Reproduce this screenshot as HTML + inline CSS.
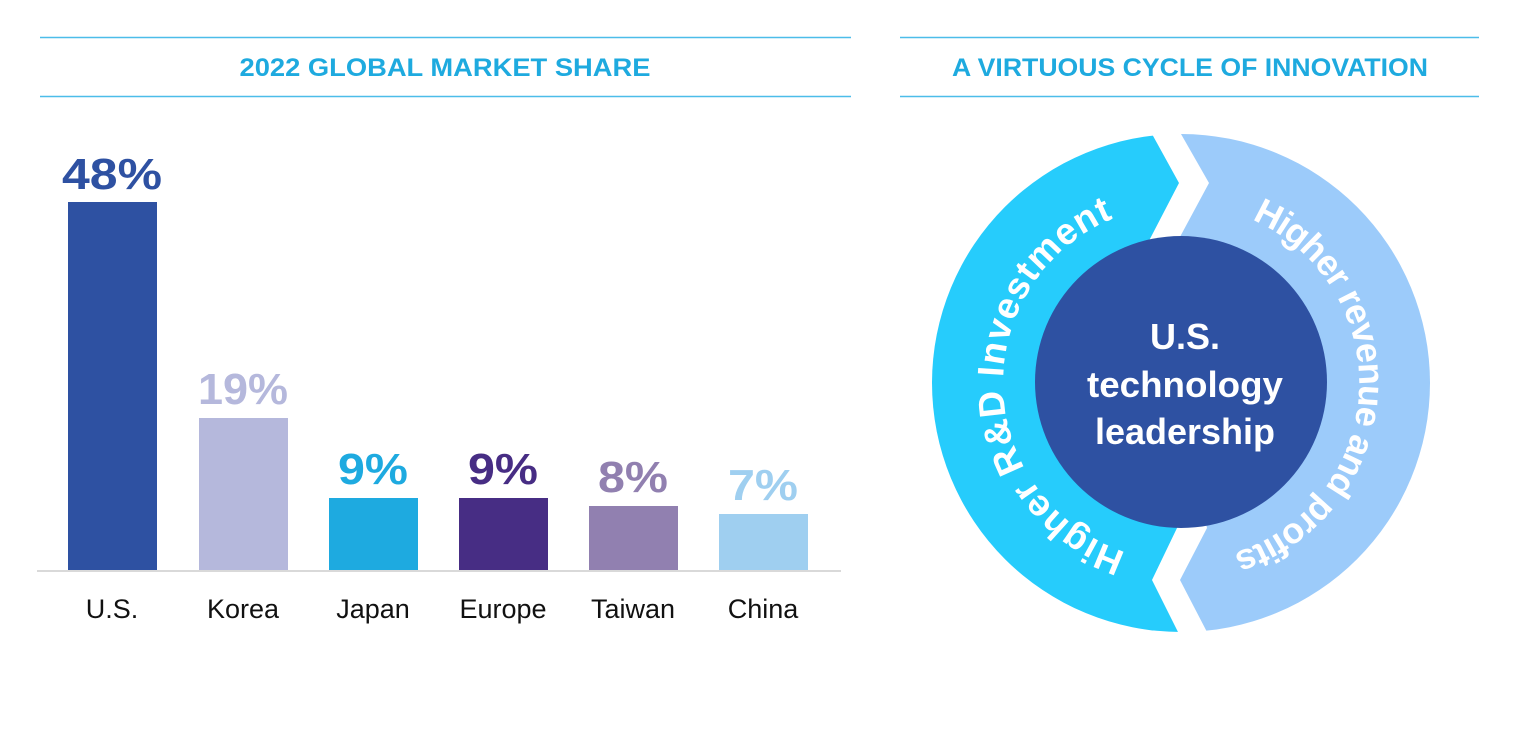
<!DOCTYPE html>
<html><head><meta charset="utf-8"><style>
html,body{margin:0;padding:0;background:#fff;}
svg{display:block;font-family:"Liberation Sans",sans-serif;}
</style></head><body>
<svg width="1536" height="730" viewBox="0 0 1536 730" xmlns="http://www.w3.org/2000/svg">
<defs>
<clipPath id="ring"><circle cx="1181" cy="383" r="249"/></clipPath>
<path id="arcL" d="M 1162.4 560.0 A 178 178 0 0 1 1150.1 207.7" fill="none"/>
<path id="arcR" d="M 1211.9 207.7 A 178 178 0 0 1 1193.4 560.6" fill="none"/>
</defs>
<line x1="40" y1="37.5" x2="851" y2="37.5" stroke="#4dbde9" stroke-width="1.5"/>
<line x1="40" y1="96.5" x2="851" y2="96.5" stroke="#4dbde9" stroke-width="1.5"/>
<text x="445" y="76" text-anchor="middle" font-size="25" font-weight="bold" fill="#1eaadf" textLength="411" lengthAdjust="spacingAndGlyphs">2022 GLOBAL MARKET SHARE</text>
<line x1="900" y1="37.5" x2="1479" y2="37.5" stroke="#4dbde9" stroke-width="1.5"/>
<line x1="900" y1="96.5" x2="1479" y2="96.5" stroke="#4dbde9" stroke-width="1.5"/>
<text x="1190" y="76" text-anchor="middle" font-size="25" font-weight="bold" fill="#1eaadf" textLength="476" lengthAdjust="spacingAndGlyphs">A VIRTUOUS CYCLE OF INNOVATION</text>
<rect x="68" y="202" width="89" height="368" fill="#2e51a2"/>
<rect x="199" y="418" width="89" height="152" fill="#b5b8dc"/>
<rect x="329" y="498" width="89" height="72" fill="#1eaae0"/>
<rect x="459" y="498" width="89" height="72" fill="#472d84"/>
<rect x="589" y="506" width="89" height="64" fill="#9180b0"/>
<rect x="719" y="514" width="89" height="56" fill="#9fcff0"/>
<line x1="37" y1="571" x2="841" y2="571" stroke="#d9d9d9" stroke-width="2"/>
<g font-size="44" font-weight="bold" text-anchor="middle">
<text x="112" y="189" fill="#2e51a2" textLength="100" lengthAdjust="spacingAndGlyphs">48%</text>
<text x="243" y="404" fill="#b5b8dc" textLength="90" lengthAdjust="spacingAndGlyphs">19%</text>
<text x="373" y="484" fill="#1eaae0" textLength="70" lengthAdjust="spacingAndGlyphs">9%</text>
<text x="503" y="484" fill="#472d84" textLength="70" lengthAdjust="spacingAndGlyphs">9%</text>
<text x="633" y="492" fill="#9180b0" textLength="70" lengthAdjust="spacingAndGlyphs">8%</text>
<text x="763" y="500" fill="#9fcff0" textLength="70" lengthAdjust="spacingAndGlyphs">7%</text>
</g>
<g font-size="27" fill="#111" text-anchor="middle">
<text x="112" y="618">U.S.</text>
<text x="243" y="618">Korea</text>
<text x="373" y="618">Japan</text>
<text x="503" y="618">Europe</text>
<text x="633" y="618">Taiwan</text>
<text x="763" y="618">China</text>
</g>
<g clip-path="url(#ring)">
<polygon points="900,100 1133,100 1152,134 1179,183 1152,235 1140,258 1170,500 1177,528 1152,580 1178,632 1195,665 900,665" fill="#26ccfc"/>
<polygon points="1162,100 1181,134 1209,183 1181,235 1170,258 1200,500 1207,528 1180,580 1207,632 1224,665 1460,665 1460,100" fill="#9ccbfa"/>
</g>
<circle cx="1181" cy="382" r="146" fill="#2e51a2"/>
<g font-weight="bold" fill="#fff">
<text font-size="37"><textPath href="#arcL" startOffset="50%" text-anchor="middle" letter-spacing="1">Higher R&amp;D Investment</textPath></text>
<text font-size="36"><textPath href="#arcR" startOffset="50%" text-anchor="middle" letter-spacing="-1">Higher revenue and profits</textPath></text>
</g>
<g font-size="36" font-weight="bold" fill="#fff" text-anchor="middle">
<text x="1185" y="349">U.S.</text>
<text x="1185" y="397" textLength="196" lengthAdjust="spacingAndGlyphs">technology</text>
<text x="1185" y="444" textLength="180" lengthAdjust="spacingAndGlyphs">leadership</text>
</g>
</svg>
</body></html>
